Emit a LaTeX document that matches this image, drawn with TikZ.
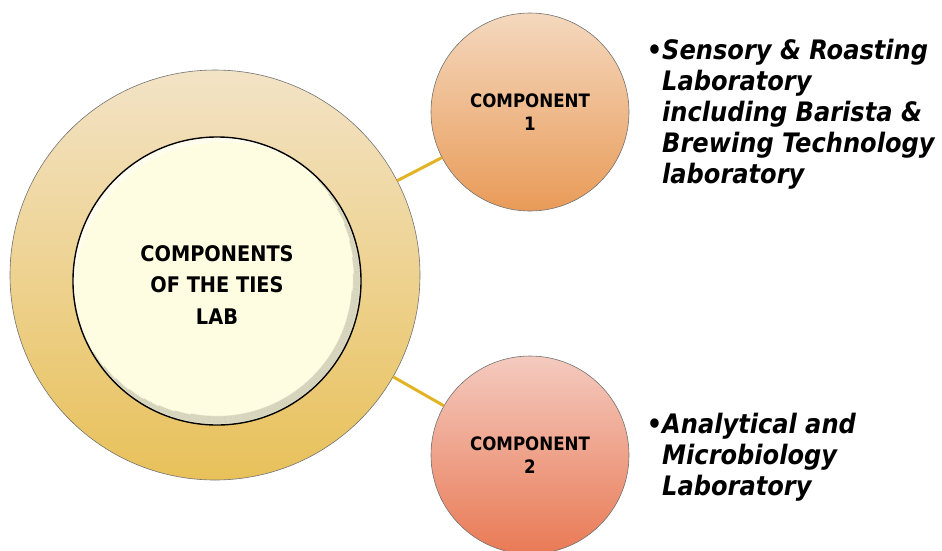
\documentclass[tikz,border=0pt]{standalone}
\usepackage{fontspec}
\setmainfont{DejaVu Sans Condensed}
\usetikzlibrary{calc}
\definecolor{hubtop}{HTML}{F3E3C6}
\definecolor{hubbot}{HTML}{E8C15A}
\definecolor{corefill}{HTML}{FFFDE1}
\definecolor{oneTop}{HTML}{F4D8BE}
\definecolor{oneBot}{HTML}{E99B58}
\definecolor{twoTop}{HTML}{F4CABF}
\definecolor{twoBot}{HTML}{E97A55}
\definecolor{link}{HTML}{E2B324}

\begin{document}
\begin{tikzpicture}[x=1pt,y=-1pt,
        disc/.style={circle, draw=black!55, line width=0.6pt, inner sep=0pt, align=center},
        note/.style={anchor=north west, align=left, inner sep=0pt,
                font=\bfseries\itshape\fontsize{26.8}{31}\selectfont}]
        \useasboundingbox (0,0) rectangle (942,550);
        %%Hub
        \node[disc, minimum size=410, top color=hubtop, bottom color=hubbot] (hub) at (215,275) {};
        \node[disc, minimum size=288, fill=corefill, draw=black, line width=1.4pt] (core) at (217,281) {};
        \node[font=\bfseries\fontsize{21.5}{31.5}\selectfont, align=center] (title) at (217,285) {COMPONENTS\\OF THE TIES\\LAB};
        %%Bevel of the core
        \foreach \i in {0,...,7}
                \draw[black, line width=1.2pt, opacity=0.12]
                ($(core.center)+({-45+7*\i}:{142.5-\i})$) arc[start angle={-45+7*\i}, end angle={150-7*\i}, radius={142.5-\i}];
        \foreach \i in {0,...,4}
                \draw[white, line width=1.2pt, opacity=0.4]
                ($(core.center)+({175+7*\i}:{142.5-\i})$) arc[start angle={175+7*\i}, end angle={295-7*\i}, radius={142.5-\i}];
        %%Components
        \node[disc, minimum size=198, top color=oneTop, bottom color=oneBot,
                font=\bfseries\fontsize{18.5}{23}\selectfont] (comp1) at (530,112) {COMPONENT\\1};
        \node[disc, minimum size=198, top color=twoTop, bottom color=twoBot,
                font=\bfseries\fontsize{18.5}{23}\selectfont] (comp2) at (530,455) {COMPONENT\\2};
        %%Links
        \draw[link, line width=3pt] (hub) -- (comp1);
        \draw[link, line width=3pt] (hub) -- (comp2);
        %%Notes
        \node[note] (note1) at (662,39) {\llap{\textbullet}Sensory \& Roasting\\Laboratory\\including Barista \&\\Brewing Technology\\laboratory};
        \node[note] (note2) at (662,413) {\llap{\textbullet}Analytical and\\Microbiology\\Laboratory};
\end{tikzpicture}
\end{document}
